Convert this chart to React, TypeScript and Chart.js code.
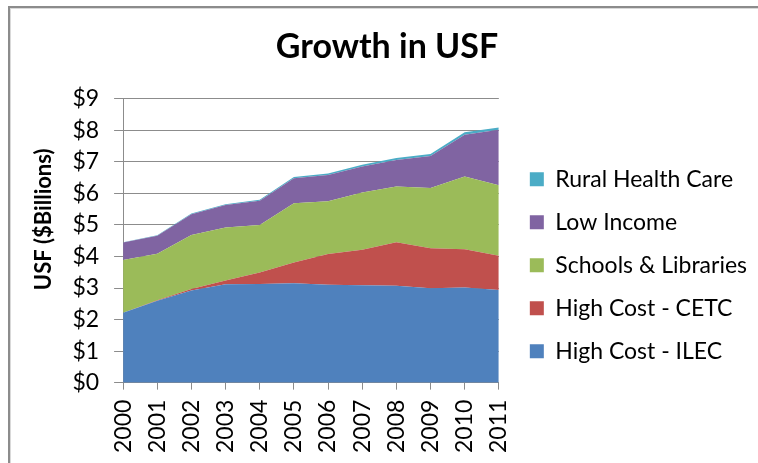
import React, { useEffect, useRef } from 'react';
import { Chart, registerables } from 'chart.js';

Chart.register(...registerables);

const years = ['2000', '2001', '2002', '2003', '2004', '2005', '2006', '2007', '2008', '2009', '2010', '2011'];
const highCostIlec = [2.22, 2.6, 2.92, 3.12, 3.13, 3.15, 3.1, 3.09, 3.07, 2.99, 3.02, 2.94];
const highCostCetc = [0.0, 0.01, 0.05, 0.12, 0.36, 0.66, 0.98, 1.12, 1.38, 1.27, 1.21, 1.08];
const schoolsLibraries = [1.67, 1.48, 1.71, 1.68, 1.51, 1.88, 1.67, 1.82, 1.77, 1.91, 2.31, 2.24];
const lowIncome = [0.55, 0.57, 0.66, 0.71, 0.77, 0.79, 0.83, 0.82, 0.84, 1.02, 1.32, 1.76];
const ruralHealthCare = [0.01, 0.01, 0.02, 0.03, 0.03, 0.04, 0.05, 0.06, 0.06, 0.06, 0.08, 0.07];

const seriesNames = ['High Cost - ILEC', 'High Cost - CETC', 'Schools & Libraries', 'Low Income', 'Rural Health Care'];
const seriesColors = ['#4F81BD', '#C0504D', '#9BBB59', '#8064A2', '#4BACC6'];
const seriesValues = [highCostIlec, highCostCetc, schoolsLibraries, lowIncome, ruralHealthCare];

const yMin = 0;
const yMax = 9;
const yStep = 1;

const FONT = 'Lato, "Open Sans", sans-serif';
const GRID = '#8c8c8c';

export default function App() {
  const ref = useRef<HTMLCanvasElement>(null);

  useEffect(() => {
    document.body.style.margin = '0';
    document.body.style.overflow = 'hidden';
    document.documentElement.style.overflow = 'hidden';
    const canvas = ref.current;
    if (!canvas) return;
    const chart = new Chart(canvas, {
      type: 'line',
      data: {
        labels: years,
        datasets: seriesValues.map((vals, i) => ({
          label: seriesNames[i],
          data: vals,
          backgroundColor: seriesColors[i],
          borderColor: seriesColors[i],
          borderWidth: 0,
          pointRadius: 0,
          fill: i === 0 ? 'origin' : '-1',
          tension: 0,
        })),
      },
      options: {
        responsive: false,
        maintainAspectRatio: false,
        devicePixelRatio: 1,
        animation: false,
        layout: { padding: { left: 17, right: 1, top: 0, bottom: 0 } },
        plugins: {
          tooltip: { enabled: false },
          title: {
            display: true,
            text: 'Growth in USF',
            color: '#000',
            font: { family: FONT, size: 34, weight: 'bold' },
            padding: { top: 27, bottom: 31 },
          },
          legend: {
            display: true,
            position: 'right',
            align: 'end',
            fullSize: false,
            reverse: true,
            maxWidth: 400,
            labels: {
              boxWidth: 14,
              boxHeight: 14,
              padding: 20,
              color: '#000',
              font: { family: FONT, size: 23 },
            },
          },
        },
        scales: {
          x: {
            offset: false,
            grid: { drawOnChartArea: false, drawTicks: true, tickLength: 7, color: GRID },
            border: { display: true, color: GRID },
            ticks: {
              autoSkip: false,
              minRotation: 90,
              maxRotation: 90,
              padding: 10,
              color: '#000',
              font: { family: FONT, size: 23 },
            },
          },
          y: {
            stacked: true,
            min: yMin,
            max: yMax,
            grid: { color: GRID, tickLength: 9 },
            border: { display: true, color: GRID },
            ticks: {
              stepSize: yStep,
              padding: 15,
              color: '#000',
              font: { family: FONT, size: 23 },
              callback: (v: any) => '$' + v,
            },
            title: {
              display: true,
              text: '        USF ($Billions)',
              color: '#000',
              font: { family: FONT, size: 22, weight: 'bold' },
              padding: { top: 14, bottom: 0 },
            },
          },
          legendGap: {
            type: 'linear',
            position: 'right',
            display: true,
            grid: { display: false },
            border: { display: false },
            ticks: { display: false },
            afterFit: (s: any) => {
              s.width = 11;
            },
          },
        },
      },
    } as any);
    return () => chart.destroy();
  }, []);

  return (
    <div style={{ position: 'fixed', left: 0, top: 0, width: '100vw', height: '100vh', background: '#fff', overflow: 'hidden' }}>
      <div
        style={{
          position: 'absolute',
          left: 8,
          top: 6,
          width: 2000,
          height: 2000,
          borderTop: '2px solid #8c8c8c',
          borderLeft: '2px solid #8c8c8c',
          boxShadow: 'inset 1px 1px 0 #d9d9d9',
        }}
      />
      <canvas ref={ref} width={758} height={463} style={{ position: 'absolute', left: 0, top: 0 }} />
    </div>
  );
}
